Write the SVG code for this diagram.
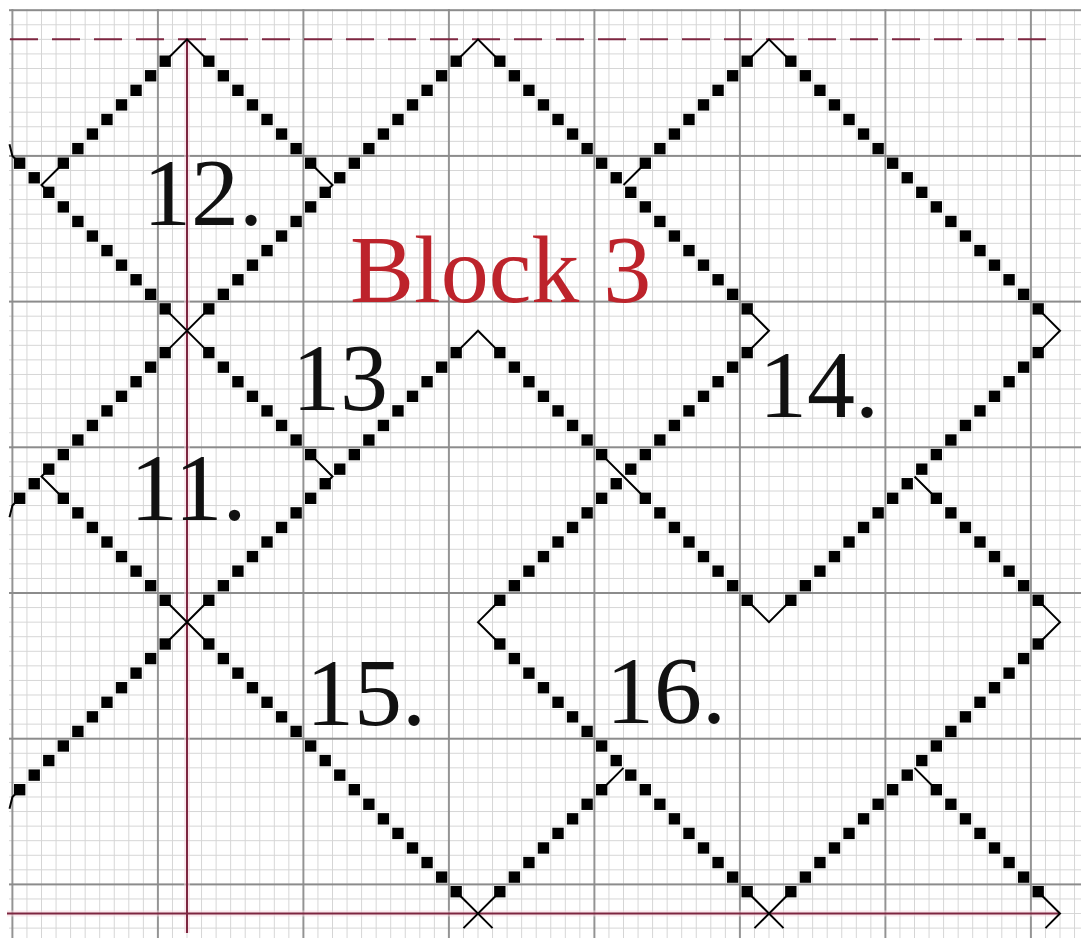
<svg xmlns="http://www.w3.org/2000/svg" width="1081" height="938" viewBox="0 0 1081 938">
<style>
.sq{fill:none;stroke:none;marker-start:url(#sq);marker-mid:url(#sq);marker-end:url(#sq)}
.th{fill:none;stroke:#000;stroke-width:2;vector-effect:non-scaling-stroke;stroke-linejoin:miter}
.lbl{font-family:"Liberation Serif","Times New Roman",serif;font-size:96px;fill:#111}
.red{fill:#bd232b}
.rl{stroke:#7d2640;stroke-width:2;fill:none}
.halo{stroke:#f6d3dc;stroke-width:6;fill:none;opacity:0.5}
</style>
<defs>
<pattern id="minor" patternUnits="userSpaceOnUse" x="5.125" y="2.915" width="14.55" height="14.57">
<path d="M0 7.285H14.55M7.275 0V14.57" stroke="#d5d5d5" stroke-width="1" fill="none"/>
</pattern>
<pattern id="major" patternUnits="userSpaceOnUse" x="-60.35" y="-62.65" width="145.5" height="145.7">
<path d="M0 72.85H145.5M72.75 0V145.7" stroke="#8c8c8c" stroke-width="1.8" fill="none"/>
</pattern>
<marker id="sq" markerUnits="userSpaceOnUse" markerWidth="1" markerHeight="1" refX="0.5" refY="0.5" overflow="visible">
<rect x="0.11" y="0.11" width="0.78" height="0.78" fill="#000"/>
</marker>
</defs>
<rect width="1081" height="938" fill="#fff"/>
<g id="grid">
<rect x="9" y="9" width="1072" height="929" fill="url(#minor)"/>
<rect x="9" y="9" width="1072" height="929" fill="url(#major)"/>
</g>
<g id="guides">
<line class="halo" x1="187" y1="39.3" x2="187" y2="933"/>
<line class="halo" x1="7" y1="913.5" x2="1060" y2="913.5"/>
<line class="rl" x1="187" y1="39.3" x2="187" y2="933"/>
<line class="rl" x1="7" y1="913.5" x2="1060" y2="913.5"/>
<line class="rl" x1="10" y1="39.3" x2="1046" y2="39.3" stroke-dasharray="28 14"/>
</g>
<g id="connectors" transform="translate(12.4 10.2) scale(14.55 14.57)">
<path class="sq" d="M3.5,10.5l1,-1 1,-1 1,-1 1,-1 1,-1 1,-1 1,-1"/>
<path class="sq" d="M0.5,33.5l1,-1 1,-1 1,-1 1,-1 1,-1 1,-1 1,-1 1,-1 1,-1 1,-1"/>
<path class="sq" d="M13.5,20.5l1,-1 1,-1 1,-1 1,-1 1,-1 1,-1 1,-1 1,-1 1,-1 1,-1 1,-1 1,-1 1,-1 1,-1 1,-1 1,-1 1,-1"/>
<path class="sq" d="M0.5,53.5l1,-1 1,-1 1,-1 1,-1 1,-1 1,-1 1,-1 1,-1 1,-1 1,-1"/>
<path class="sq" d="M13.5,40.5l1,-1 1,-1 1,-1 1,-1 1,-1 1,-1 1,-1 1,-1 1,-1 1,-1 1,-1 1,-1 1,-1 1,-1 1,-1 1,-1 1,-1"/>
<path class="sq" d="M43.5,10.5l1,-1 1,-1 1,-1 1,-1 1,-1 1,-1 1,-1"/>
<path class="sq" d="M33.5,40.5l1,-1 1,-1 1,-1 1,-1 1,-1 1,-1 1,-1 1,-1 1,-1 1,-1 1,-1 1,-1 1,-1 1,-1 1,-1 1,-1 1,-1"/>
<path class="sq" d="M33.5,60.5l1,-1 1,-1 1,-1 1,-1 1,-1 1,-1 1,-1"/>
<path class="sq" d="M53.5,40.5l1,-1 1,-1 1,-1 1,-1 1,-1 1,-1 1,-1 1,-1 1,-1 1,-1 1,-1 1,-1 1,-1 1,-1 1,-1 1,-1 1,-1"/>
<path class="sq" d="M53.5,60.5l1,-1 1,-1 1,-1 1,-1 1,-1 1,-1 1,-1 1,-1 1,-1 1,-1 1,-1 1,-1 1,-1 1,-1 1,-1 1,-1 1,-1"/>
<path class="sq" d="M13.5,3.5l1,1 1,1 1,1 1,1 1,1 1,1 1,1"/>
<path class="sq" d="M33.5,23.5l1,1 1,1 1,1 1,1 1,1 1,1 1,1"/>
<path class="sq" d="M43.5,33.5l1,1 1,1 1,1 1,1 1,1 1,1 1,1"/>
<path class="sq" d="M63.5,53.5l1,1 1,1 1,1 1,1 1,1 1,1 1,1"/>
<path class="sq" d="M33.5,3.5l1,1 1,1 1,1 1,1 1,1 1,1 1,1 1,1 1,1 1,1 1,1 1,1 1,1 1,1 1,1 1,1 1,1"/>
<path class="sq" d="M63.5,33.5l1,1 1,1 1,1 1,1 1,1 1,1 1,1"/>
<path class="sq" d="M53.5,3.5l1,1 1,1 1,1 1,1 1,1 1,1 1,1 1,1 1,1 1,1 1,1 1,1 1,1 1,1 1,1 1,1 1,1"/>
<path class="sq" d="M0.5,10.5l1,1 1,1 1,1 1,1 1,1 1,1 1,1 1,1 1,1 1,1"/>
<path class="sq" d="M13.5,23.5l1,1 1,1 1,1 1,1 1,1 1,1 1,1"/>
<path class="sq" d="M33.5,43.5l1,1 1,1 1,1 1,1 1,1 1,1 1,1 1,1 1,1 1,1 1,1 1,1 1,1 1,1 1,1 1,1 1,1"/>
<path class="sq" d="M3.5,33.5l1,1 1,1 1,1 1,1 1,1 1,1 1,1"/>
<path class="sq" d="M13.5,43.5l1,1 1,1 1,1 1,1 1,1 1,1 1,1 1,1 1,1 1,1 1,1 1,1 1,1 1,1 1,1 1,1 1,1"/>
<path class="th" d="M10.5,3.5L12,2L13.5,3.5M30.5,3.5L32,2L33.5,3.5M50.5,3.5L52,2L53.5,3.5M30.5,23.5L32,22L33.5,23.5"/>
<path class="th" d="M50.5,20.5L52,22L50.5,23.5M70.5,20.5L72,22L70.5,23.5M70.5,40.5L72,42L70.5,43.5M50.5,40.5L52,42L53.5,40.5M33.5,40.5L32,42L33.5,43.5"/>
<path class="th" d="M10.5,20.5L13.5,23.5M13.5,20.5L10.5,23.5M10.5,40.5L13.5,43.5M13.5,40.5L10.5,43.5"/>
<path class="th" d="M30.5,60.5L33,63M33.5,60.5L31,63M50.5,60.5L53,63M53.5,60.5L51,63M70.5,60.5L72,62L71,63"/>
<path class="th" d="M3.5,10.5L2,12L2.5,12.5M20.5,10.5L22,12L21.5,12.5M20.5,30.5L22,32L21.5,32.5M3.5,33.5L2,32L2.5,31.5"/>
<path class="th" d="M43.5,10.5L42,12M40.5,53.5L42,52M62,32L63.5,33.5M62,52L63.5,53.5M40.5,30.5L43.5,33.5"/>
<path class="th" d="M0.5,10.5L0,10L-0.2,9.2M0.5,33.5L0,34L-0.2,34.8M0.5,53.5L0,54L-0.2,54.8"/>
</g>
<g id="motif-12"><text class="lbl" x="143" y="225">12.</text></g>
<g id="motif-13"><text class="lbl" x="292" y="410">13</text></g>
<g id="motif-11"><text class="lbl" x="130" y="520">11.</text></g>
<g id="motif-14"><text class="lbl" x="759" y="417">14.</text></g>
<g id="motif-15"><text class="lbl" x="306" y="725">15.</text></g>
<g id="motif-16"><text class="lbl" x="606" y="723">16.</text></g>
<g id="block-title"><text class="lbl red" x="350" y="302">Block 3</text></g>
</svg>
